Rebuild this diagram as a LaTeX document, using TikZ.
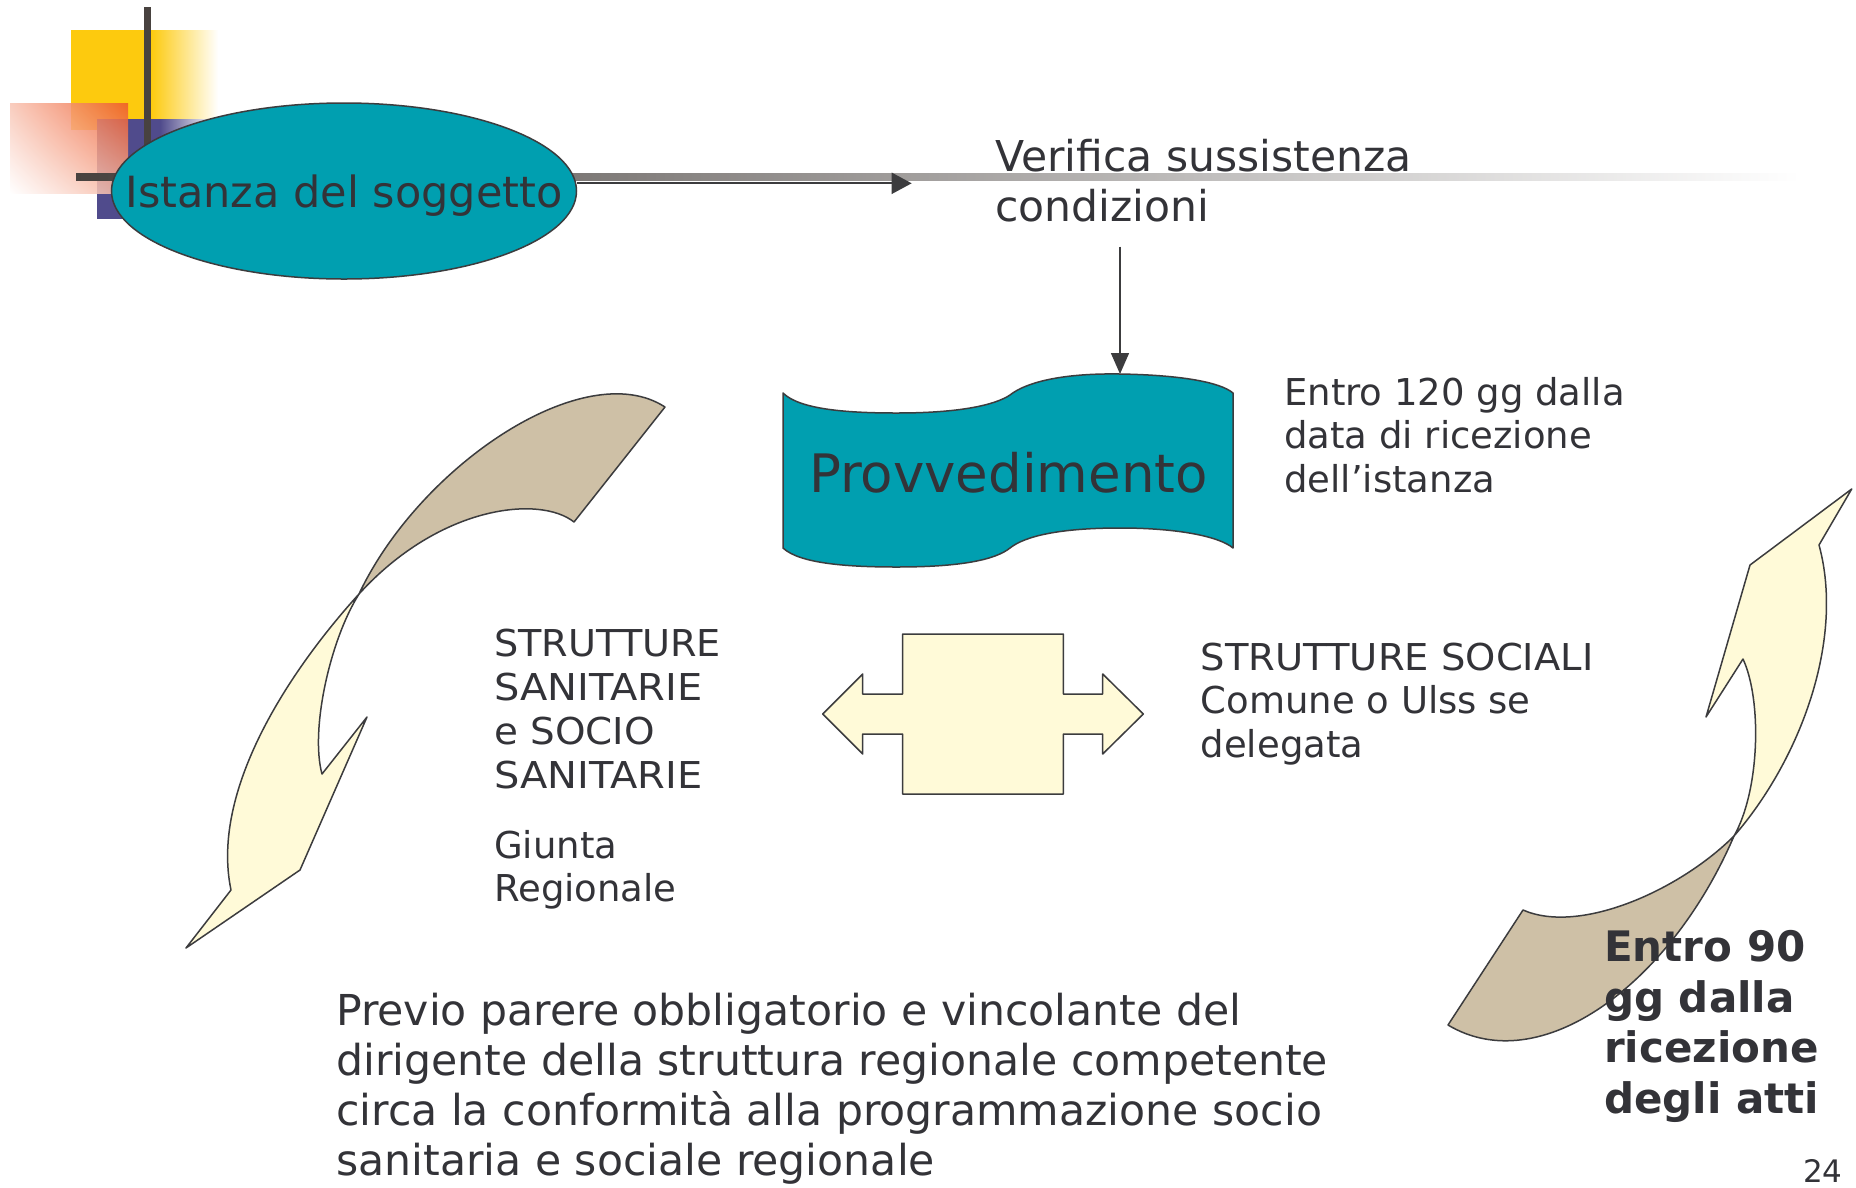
\documentclass[tikz,border=0pt]{standalone}
\usepackage{graphicx}
\usepackage{fontspec}
\setmainfont{DejaVu Sans}
\usetikzlibrary{shapes.geometric,arrows.meta,calc,shadings}
\definecolor{txt}{RGB}{51,51,56}
\definecolor{tealc}{RGB}{0,159,176}
\definecolor{outl}{RGB}{60,60,62}
\definecolor{tanc}{RGB}{206,192,166}
\definecolor{creamc}{RGB}{255,250,216}
\definecolor{yellowc}{RGB}{253,202,14}
\definecolor{bluec}{RGB}{80,75,140}
\definecolor{redc}{RGB}{238,88,40}
\definecolor{darkline}{RGB}{72,66,63}
\definecolor{midline}{RGB}{180,168,163}
\newcommand{\wide}[2]{\scalebox{#1}[1]{#2}}
\begin{document}
\begin{tikzpicture}[x=1pt,y=-1pt,
  every node/.style={text=txt, inner sep=0pt},
  shapeline/.style={draw=outl, line width=1.5pt, line join=round},
  arrowline/.style={draw=outl, line width=2pt, -{Triangle[length=20pt,width=21pt]}},
  vline/.style={draw=outl, line width=1.5pt, -{Triangle[length=21pt,width=18pt]}},
  txtA/.style={font=\fontsize{42.5}{50}\selectfont, align=left, anchor=base west},
  txtB/.style={font=\fontsize{37}{43.5}\selectfont, align=left, anchor=base west}]
\useasboundingbox (0,0) rectangle (1856,1187);
\fill[white] (0,0) rectangle (1856,1187);
% template decoration
\fill[yellowc] (71,30) rectangle (151,130);
\shade[left color=yellowc, right color=white] (151,30) rectangle (218,130);
\fill[bluec] (97,119) rectangle (160,219);
\shade[left color=bluec, right color=white] (160,119) rectangle (215,219);
\shade[opacity=0.85, upper left=redc!35!white, upper right=redc, lower left=white, lower right=redc!45!white] (10,103) rectangle (128,193);
\fill[darkline] (144,7) rectangle (151,205);
\shade[left color=darkline, middle color=midline, right color=white] (76,173) rectangle (1800,180);
% ellipse
\node[ellipse, draw=outl, line width=1.5pt, fill=tealc, minimum width=465pt, minimum height=176pt] (ell) at (344,191) {};
\node[anchor=base, font=\fontsize{43}{50}\selectfont] (isttxt) at (344,207) {Istanza del soggetto};
\coordinate (arrEnd) at (911.7,183.3);
\draw[arrowline] (ell.east |- arrEnd) -- (arrEnd);
% multi-line nodes: base anchor = baseline of last line
\node[txtA] (verif) at (995,221.5) {Verifica sussistenza\\condizioni};
% banner
\filldraw[fill=tealc, shapeline] (783,393) .. controls (800,410) and (850,413) .. (897,413)
  .. controls (960,413) and (995,405) .. (1010,395)
  .. controls (1025,383) and (1060,373) .. (1120,374)
  .. controls (1180,375) and (1220,382) .. (1233,393) -- (1233,548)
  .. controls (1220,537) and (1180,528) .. (1120,528)
  .. controls (1060,528) and (1025,536) .. (1010,548)
  .. controls (995,560) and (960,567) .. (897,567)
  .. controls (850,567) and (800,564) .. (783,548) -- cycle;
\node[anchor=base, font=\fontsize{53}{60}\selectfont] (prov) at (1008.5,492) {Provvedimento};
\coordinate (vstart) at (1120,246.7);
\coordinate (provtop) at (1120,374);
\draw[vline] (vstart) -- (provtop);
\node[txtB] (entro120) at (1284,492) {Entro 120 gg dalla\\data di ricezione\\dell’istanza};
% double arrow box
\filldraw[fill=creamc, shapeline] (822.7,714) -- (862.7,674) -- (862.7,694) -- (902.7,694) -- (902.7,634)
  -- (1063.3,634) -- (1063.3,694) -- (1102.7,694) -- (1102.7,674) -- (1143.3,714) -- (1102.7,754)
  -- (1102.7,734) -- (1063.3,734) -- (1063.3,794) -- (902.7,794) -- (902.7,734) -- (862.7,734)
  -- (862.7,754) -- cycle;
\node[txtB, font=\fontsize{37}{44}\selectfont] (strsan) at (494,788.7)
  {\wide{1.033}{STRUTTURE}\\\wide{1.08}{SANITARIE}\\\wide{1.05}{e SOCIO}\\\wide{1.08}{SANITARIE}};
\node[txtB] (giunta) at (494,901.8) {Giunta\\Regionale};
\node[txtB] (strsoc) at (1200.5,757) {\wide{1.04}{STRUTTURE SOCIALI}\\Comune o Ulss se\\delegata};
% left curved arrow
\coordinate (P1) at (359,594);
\filldraw[fill=tanc, shapeline] (P1) .. controls (420,465) and (585,355) .. (665,407) -- (574,522)
  .. controls (540,495) and (440,505) .. (P1) -- cycle;
\filldraw[fill=creamc, shapeline] (P1) .. controls (290,670) and (210,790) .. (231,890) -- (186,948)
  -- (300,870) -- (367,717) -- (322,774) .. controls (310,730) and (330,640) .. (P1) -- cycle;
% right curved arrow
\coordinate (Q1) at (1734,836);
\filldraw[fill=creamc, shapeline] (Q1) .. controls (1800,760) and (1845,640) .. (1819,545) -- (1851.7,489)
  -- (1750,565) -- (1706,717) -- (1743,659) .. controls (1762,700) and (1760,790) .. (Q1) -- cycle;
\filldraw[fill=tanc, shapeline] (Q1) .. controls (1680,890) and (1580,935) .. (1523,910) -- (1448,1025)
  .. controls (1540,1080) and (1670,985) .. (Q1) -- cycle;
% texts
\node[font=\fontsize{42.6}{49.7}\selectfont, align=left, anchor=base west] (previo) at (336,1175)
  {Previo parere obbligatorio e vincolante del\\dirigente della struttura regionale competente\\circa la conformità alla programmazione socio\\sanitaria e sociale regionale};
\node[font=\bfseries\fontsize{42}{50.5}\selectfont, align=left, anchor=base west] (entro90) at (1604,1113.2)
  {Entro 90\\gg dalla\\ricezione\\degli atti};
\node[font=\fontsize{31}{36}\selectfont, anchor=base west] (pagenum) at (1803,1182) {24};
\end{tikzpicture}
\end{document}
